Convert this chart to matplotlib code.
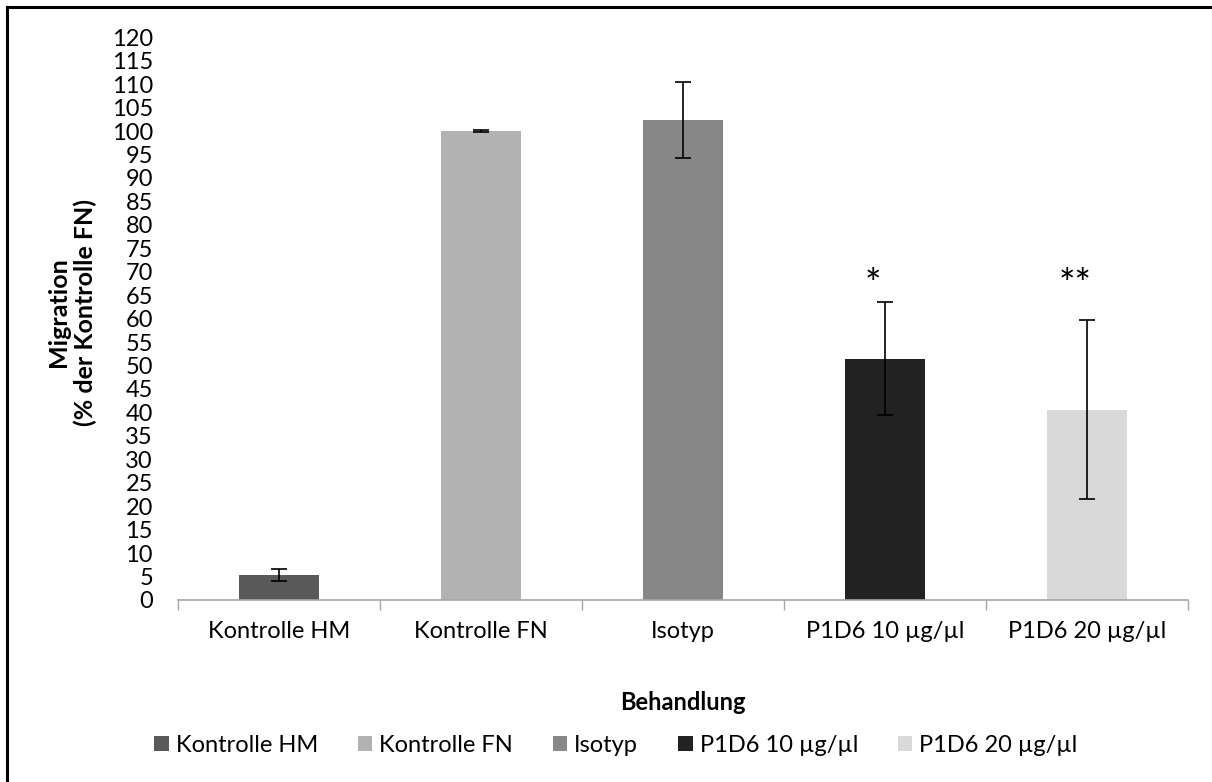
import matplotlib
matplotlib.use("Agg")
import matplotlib.pyplot as plt
from matplotlib.lines import Line2D
from matplotlib.patches import Patch

plt.rcParams['font.family'] = ['Lato', 'DejaVu Sans']

categories = ["Kontrolle HM", "Kontrolle FN", "Isotyp", "P1D6 10 µg/µl", "P1D6 20 µg/µl"]
values = [5.3, 100.0, 102.3, 51.5, 40.6]
errors = [1.25, 0.2, 8.1, 12.0, 19.1]
signif = ["", "", "", "*", "**"]
colors = ["#595959", "#b2b2b2", "#878787", "#222222", "#d9d9d9"]
yticks = list(range(0, 121, 5))

W, H = 1212, 782
FS = 17
fig = plt.figure(figsize=(W / 100, H / 100), dpi=100)
ax = fig.add_axes([178 / W, 1 - 600 / H, (1188 - 178) / W, (600 - 37.3) / H])

x = list(range(len(categories)))
ax.bar(x, values, width=0.4, color=colors, zorder=2)
ax.errorbar(x, values, yerr=errors, fmt="none", ecolor="black",
            elinewidth=1.2, capsize=5.5, capthick=1.2, zorder=3)

for xi, s in zip(x, signif):
    if s:
        ax.text(xi - 0.06, 67.0, s, ha="center", va="center", fontsize=28)

ax.set_xlim(-0.5, len(categories) - 0.5)
ax.set_ylim(0, 120)
ax.set_yticks(yticks)
ax.tick_params(axis="y", length=0, pad=18, labelsize=FS)
ax.set_xticks(x)
ax.set_xticklabels(categories)
ax.set_xticks([i - 0.5 for i in range(len(categories) + 1)], minor=True)
ax.tick_params(axis="x", which="major", length=0, pad=15, labelsize=FS)
ax.tick_params(axis="x", which="minor", length=7, width=1, color="#a6a6a6", direction="out")

for side in ("left", "right", "top"):
    ax.spines[side].set_visible(False)
ax.spines["bottom"].set_color("#a6a6a6")
ax.spines["bottom"].set_linewidth(1.2)

fig.text(683 / W, 1 - 703 / H, "Behandlung", ha="center", va="center",
         fontsize=FS, fontweight="bold")
fig.text(72 / W, 1 - 312 / H, "Migration\n(% der Kontrolle FN)", rotation=90,
         ha="center", va="center", fontsize=18, fontweight="bold", linespacing=1.2)

handles = [Patch(facecolor=c, edgecolor="none") for c in colors]
fig.legend(handles, categories, loc="center", bbox_to_anchor=(616 / W, 1 - 745 / H),
           ncol=5, frameon=False, fontsize=FS, handlelength=0.6, handleheight=0.6,
           handletextpad=0.3, columnspacing=1.7, borderpad=0, borderaxespad=0)

# frame lines along top and left edges
fig.add_artist(Line2D([7 / W, 1], [1 - 7 / H, 1 - 7 / H], color="black", lw=2.2,
                      transform=fig.transFigure))
fig.add_artist(Line2D([7 / W, 7 / W], [0, 1 - 7 / H], color="black", lw=2.2,
                      transform=fig.transFigure))

fig.savefig("out.png", dpi=100, facecolor="white")
